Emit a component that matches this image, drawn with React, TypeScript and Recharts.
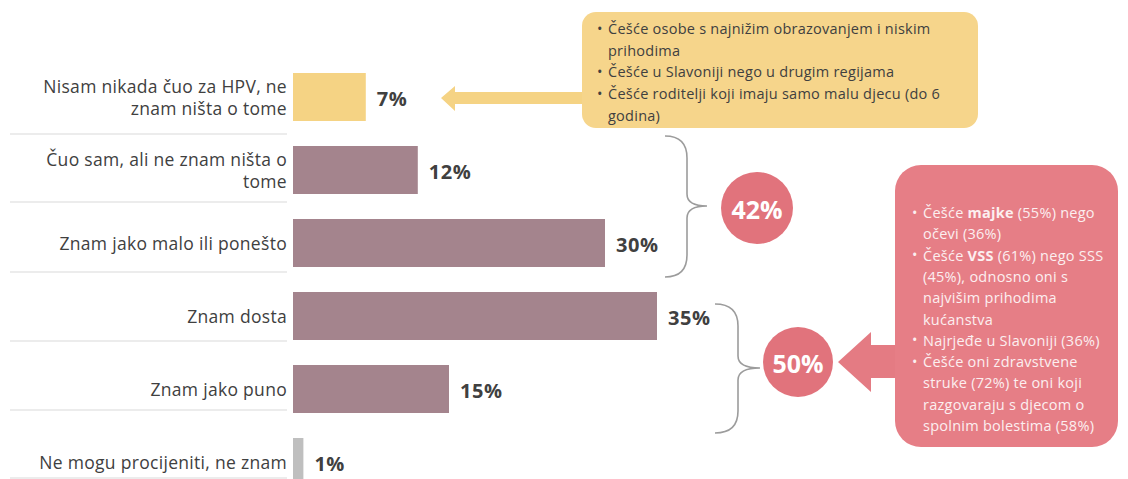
import React from 'react';
import { BarChart, Bar, XAxis, YAxis, Cell, LabelList } from 'recharts';

const categories = [
  'Nisam nikada čuo za HPV, ne\nznam ništa o tome',
  'Čuo sam, ali ne znam ništa o\ntome',
  'Znam jako malo ili ponešto',
  'Znam dosta',
  'Znam jako puno',
  'Ne mogu procijeniti, ne znam'
];
const values = [7, 12, 30, 35, 15, 1];
const barColors = ['#F5D384', '#A4848D', '#A4848D', '#A4848D', '#A4848D', '#BFBFBF'];

const yellowNotes = [
  ['• ', 'Češće osobe s najnižim obrazovanjem i niskim'],
  ['', 'prihodima'],
  ['• ', 'Češće u Slavoniji nego u drugim regijama'],
  ['• ', 'Češće roditelji koji imaju samo malu djecu (do 6'],
  ['', 'godina)']
];

const data = categories.map((name, i) => ({ name, value: values[i] }));

const FONT = '"Open Sans", "Noto Sans", sans-serif';
const TEXT = '#404040';

function CategoryTick(props: any) {
  const { x, y, payload } = props;
  const lines = String(payload.value).split('\n');
  const lh = 22;
  const start = y - ((lines.length - 1) * lh) / 2;
  return (
    <text
      x={x}
      y={start}
      textAnchor="end"
      fill={TEXT}
      fontSize={17.5}
      letterSpacing={0.3}
      fontFamily={FONT}
      dominantBaseline="central"
    >
      {lines.map((l, i) => (
        <tspan key={i} x={x} y={start + i * lh}>
          {l}
        </tspan>
      ))}
    </text>
  );
}

function ValueLabel(props: any) {
  const { x, y, width, height, value } = props;
  return (
    <text
      x={x + width + 11}
      y={y + height / 2 + 1}
      fill={TEXT}
      fontSize={20}
      fontWeight={700}
      fontFamily={FONT}
      letterSpacing={0.5}
      dominantBaseline="central"
    >
      {value}%
    </text>
  );
}

function Overlay() {
  const sepY = [134, 202, 272, 341, 410, 478];
  const redLines: React.ReactNode[] = [
    <>Češće <tspan fontWeight={700}>majke</tspan> (55%) nego</>,
    <>očevi (36%)</>,
    <>Češće <tspan fontWeight={700}>VSS</tspan> (61%) nego SSS</>,
    <>(45%), odnosno oni s</>,
    <>najvišim prihodima</>,
    <>kućanstva</>,
    <>Najrjeđe u Slavoniji (36%)</>,
    <>Češće oni zdravstvene</>,
    <>struke (72%) te oni koji</>,
    <>razgovaraju s djecom o</>,
    <>spolnim bolestima (58%)</>
  ];
  const redBullet = [true, false, true, false, false, false, true, true, false, false, false];
  return (
    <svg width={1128} height={479} style={{ position: 'absolute', left: 0, top: 0, pointerEvents: 'none' }}>
      {sepY.map((y) => (
        <line key={y} x1={10} x2={287} y1={y} y2={y} stroke="#D9D9D9" strokeWidth={1.2} />
      ))}

      {/* yellow callout */}
      <polygon points="441,98 455,86 455,92 590,92 590,104 455,104 455,111" fill="#F5D384" />
      <rect x={582} y={12} width={396} height={116} rx={14} fill="#F6D58B" />
      {yellowNotes.map(([b, t], i) => (
        <text
          key={i}
          x={597}
          y={28 + i * 21.7}
          fill={TEXT}
          fontSize={14.5}
          letterSpacing={0.25}
          fontFamily={FONT}
          dominantBaseline="central"
        >
          {b ? '•' : ''}
          <tspan x={608}>{t}</tspan>
        </text>
      ))}

      {/* braces */}
      <path
        d="M665,136 Q687,136 687,158 L687,194 Q687,206 707,206 Q687,206 687,218 L687,255 Q687,277 665,277"
        fill="none"
        stroke="#9C9C9C"
        strokeWidth={1.6}
      />
      <path
        d="M715,304 Q738,304 738,326 L738,356 Q738,368 760,368 Q738,368 738,380 L738,411 Q738,433 715,433"
        fill="none"
        stroke="#9C9C9C"
        strokeWidth={1.6}
      />

      {/* circles */}
      <circle cx={757} cy={208} r={36} fill="#E1737C" />
      <text x={757} y={209} textAnchor="middle" dominantBaseline="central" fill="#FFFFFF" fontSize={25} fontWeight={700} fontFamily={FONT}>
        42%
      </text>
      <circle cx={798} cy={362} r={35} fill="#E1737C" />
      <text x={798} y={363} textAnchor="middle" dominantBaseline="central" fill="#FFFFFF" fontSize={25} fontWeight={700} fontFamily={FONT}>
        50%
      </text>

      {/* red callout */}
      <polygon points="838,362 871,332 871,345 905,345 905,378 871,378 871,392" fill="#E47B83" />
      <rect x={895} y={165} width={223} height={282} rx={26} fill="#E67E86" />
      {redLines.map((l, i) => (
        <text
          key={i}
          x={912}
          y={212 + i * 21.3}
          fill="#FCEFF0"
          fontSize={14.5}
          letterSpacing={0.25}
          fontFamily={FONT}
          dominantBaseline="central"
        >
          {redBullet[i] ? '•' : ''}
          <tspan x={923}>{l}</tspan>
        </text>
      ))}
    </svg>
  );
}

export default function App() {
  return (
    <div
      style={{
        position: 'absolute',
        left: 0,
        top: 0,
        width: 1128,
        height: 479,
        overflow: 'hidden',
        background: '#FFFFFF'
      }}
    >
      <BarChart
        width={1128}
        height={510}
        data={data}
        layout="vertical"
        margin={{ top: 60, right: 3, left: 0, bottom: 12 }}
      >
        <XAxis type="number" domain={[0, 80]} hide />
        <YAxis
          type="category"
          dataKey="name"
          width={293}
          axisLine={false}
          tickLine={false}
          tickSize={0}
          tickMargin={6}
          interval={0}
          tick={<CategoryTick />}
        />
        <Bar dataKey="value" barSize={48} isAnimationActive={false}>
          {data.map((d, i) => (
            <Cell key={d.name} fill={barColors[i]} />
          ))}
          <LabelList dataKey="value" content={<ValueLabel />} />
        </Bar>
      </BarChart>
      <Overlay />
    </div>
  );
}
